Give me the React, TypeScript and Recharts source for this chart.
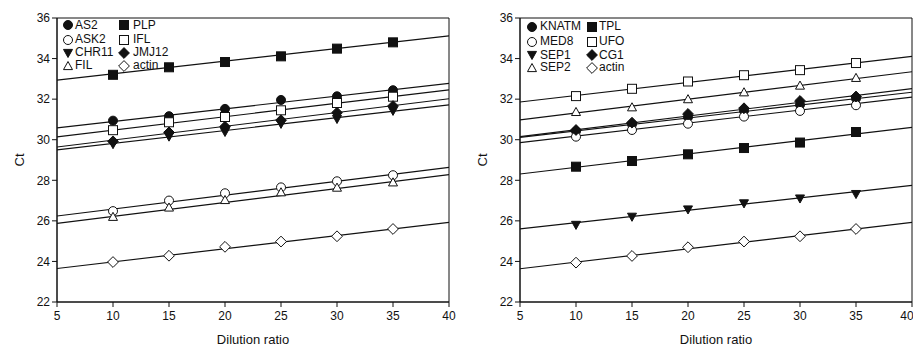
import React from "react"
import { ScatterChart, Scatter, XAxis, YAxis, ReferenceArea } from "recharts"

// dilution points and fit-line ends
const xValues = [10, 15, 20, 25, 30, 35]
const fitX = [5, 40]
const xTicks = [5, 10, 15, 20, 25, 30, 35, 40]
const yTicks = [22, 24, 26, 28, 30, 32, 34, 36]

// left panel
const leftNames = ["AS2", "ASK2", "CHR11", "FIL", "PLP", "IFL", "JMJ12", "actin"]
const as2 = [30.94, 31.16, 31.52, 31.96, 32.14, 32.44]
const ask2 = [26.48, 27.0, 27.36, 27.65, 27.95, 28.25]
const chr11 = [29.78, 30.15, 30.38, 30.78, 31.02, 31.42]
const fil = [26.2, 26.66, 27.03, 27.41, 27.64, 27.9]
const plp = [33.2, 33.57, 33.83, 34.11, 34.49, 34.8]
const ifl = [30.47, 30.86, 31.12, 31.45, 31.81, 32.12]
const jmj12 = [29.92, 30.36, 30.64, 30.96, 31.33, 31.66]
const actinL = [23.97, 24.28, 24.72, 24.98, 25.24, 25.6]

const as2Fit = [30.58, 32.78]
const ask2Fit = [26.24, 28.64]
const chr11Fit = [29.5, 31.72]
const filFit = [25.88, 28.28]
const plpFit = [32.94, 35.12]
const iflFit = [30.14, 32.46]
const jmj12Fit = [29.64, 32.02]
const actinLFit = [23.65, 25.93]

// right panel
const rightNames = ["KNATM", "MED8", "SEP1", "SEP2", "TPL", "UFO", "CG1", "actin"]
const knatm = [30.42, 30.76, 31.11, 31.42, 31.72, 32.03]
const med8 = [30.15, 30.48, 30.79, 31.14, 31.42, 31.7]
const sep1 = [25.8, 26.2, 26.56, 26.86, 27.1, 27.32]
const sep2 = [31.37, 31.6, 32.0, 32.34, 32.67, 33.05]
const tpl = [28.67, 28.95, 29.28, 29.59, 29.86, 30.38]
const ufo = [32.15, 32.51, 32.87, 33.18, 33.43, 33.78]
const cg1 = [30.48, 30.84, 31.27, 31.55, 31.91, 32.13]
const actinR = [23.94, 24.27, 24.7, 24.98, 25.24, 25.6]

const knatmFit = [30.12, 32.34]
const med8Fit = [29.86, 32.1]
const sep1Fit = [25.6, 27.75]
const sep2Fit = [30.98, 33.35]
const tplFit = [28.31, 30.61]
const ufoFit = [31.86, 34.11]
const cg1Fit = [30.15, 32.52]
const actinRFit = [23.64, 25.93]

const leftValues = [as2, ask2, chr11, fil, plp, ifl, jmj12, actinL]
const leftFits = [as2Fit, ask2Fit, chr11Fit, filFit, plpFit, iflFit, jmj12Fit, actinLFit]
const rightValues = [knatm, med8, sep1, sep2, tpl, ufo, cg1, actinR]
const rightFits = [knatmFit, med8Fit, sep1Fit, sep2Fit, tplFit, ufoFit, cg1Fit, actinRFit]

// marker per legend slot (same order in both panels)
const MARKERS = [
  { kind: "circle", filled: true },
  { kind: "circle", filled: false },
  { kind: "down", filled: true },
  { kind: "up", filled: false },
  { kind: "square", filled: true },
  { kind: "square", filled: false },
  { kind: "diamond", filled: true },
  { kind: "diamond", filled: false },
]

const FONT = "Arial, 'Liberation Sans', sans-serif"
const INK = "#111"

function Marker({ cx, cy, kind, filled, size = 9 }: any) {
  const r = size / 2
  const fill = filled ? INK : "#fff"
  const common = { fill, stroke: INK, strokeWidth: 1 }
  if (kind === "circle") return <circle cx={cx} cy={cy} r={r} {...common} />
  if (kind === "square") return <rect x={cx - r} y={cy - r} width={size} height={size} {...common} />
  if (kind === "down")
    return <polygon points={`${cx - r},${cy - r * 0.8} ${cx + r},${cy - r * 0.8} ${cx},${cy + r}`} {...common} />
  if (kind === "up")
    return <polygon points={`${cx - r},${cy + r * 0.8} ${cx + r},${cy + r * 0.8} ${cx},${cy - r}`} {...common} />
  const d = r * 1.2
  return <polygon points={`${cx},${cy - d} ${cx + d},${cy} ${cx},${cy + d} ${cx - d},${cy}`} {...common} />
}

function LegendItem({ name, marker, x, y, textX }: any) {
  return (
    <>
      <svg style={{ position: "absolute", left: x - 7, top: y - 7 }} width={14} height={14}>
        <Marker cx={7} cy={7} kind={marker.kind} filled={marker.filled} />
      </svg>
      <div style={{ position: "absolute", left: textX, top: y - 6.5, fontSize: 12, lineHeight: "13px", color: INK }}>
        {name}
      </div>
    </>
  )
}

interface PanelProps {
  left: number
  names: string[]
  values: number[][]
  fits: number[][]
  marginLeft: number
  marginRight: number
  legendCols: number[][]
  legendRows: number[]
}

function Panel({ left, names, values, fits, marginLeft, marginRight, legendCols, legendRows }: PanelProps) {
  const plotLeft = marginLeft + 30
  const plotRight = 460 - marginRight
  const tickStyle = { fontSize: 12, fill: INK, fontFamily: FONT }

  return (
    <div style={{ position: "absolute", left, top: 0, width: 460, height: 346, overflow: "hidden" }}>
      <ScatterChart width={460} height={346} margin={{ top: 18, right: marginRight, bottom: 14, left: marginLeft }}>
        <XAxis
          type="number"
          dataKey="x"
          domain={[5, 40]}
          ticks={xTicks}
          allowDataOverflow
          tick={tickStyle}
          tickLine={{ stroke: INK }}
          axisLine={{ stroke: INK }}
          tickSize={5}
          tickMargin={4}
          height={30}
        />
        <YAxis
          type="number"
          dataKey="y"
          domain={[22, 36]}
          ticks={yTicks}
          allowDataOverflow
          tick={tickStyle}
          tickLine={{ stroke: INK }}
          axisLine={{ stroke: INK }}
          tickSize={5}
          width={30}
        />
        <ReferenceArea x1={5} x2={40} y1={22} y2={36} fill="none" stroke={INK} strokeWidth={1} />
        {fits.map((f, i) => (
          <Scatter
            key={`fit-${i}`}
            data={fitX.map((x, j) => ({ x, y: f[j] }))}
            line={{ stroke: INK, strokeWidth: 1.2 }}
            shape={() => <g />}
            isAnimationActive={false}
          />
        ))}
        {values.map((v, i) => (
          <Scatter
            key={`pts-${i}`}
            name={names[i]}
            data={xValues.map((x, j) => ({ x, y: v[j] }))}
            shape={(p: any) => <Marker cx={p.cx} cy={p.cy} kind={MARKERS[i].kind} filled={MARKERS[i].filled} />}
            isAnimationActive={false}
          />
        ))}
      </ScatterChart>
      {names.map((n, i) => {
        const col = legendCols[Math.floor(i / 4)]
        return <LegendItem key={n + i} name={n} marker={MARKERS[i]} x={col[0]} textX={col[1]} y={legendRows[i % 4]} />
      })}
      <div
        style={{
          position: "absolute",
          left: plotLeft,
          width: plotRight - plotLeft,
          top: 332,
          textAlign: "center",
          fontSize: 13,
          color: INK,
        }}
      >
        Dilution ratio
      </div>
      <div
        style={{
          position: "absolute",
          left: marginLeft - 27,
          top: 160 - 8,
          width: 40,
          textAlign: "center",
          fontSize: 13,
          lineHeight: "16px",
          color: INK,
          transform: "rotate(-90deg)",
        }}
      >
        Ct
      </div>
    </div>
  )
}

export default function App() {
  return (
    <div style={{ position: "absolute", left: 0, top: 0, width: 913, height: 346, background: "#fff", fontFamily: FONT }}>
      <Panel
        left={0}
        names={leftNames}
        values={leftValues}
        fits={leftFits}
        marginLeft={27}
        marginRight={11}
        legendCols={[[68, 75], [124, 133]]}
        legendRows={[25, 39.5, 52.5, 65.5]}
      />
      <Panel
        left={453}
        names={rightNames}
        values={rightValues}
        fits={rightFits}
        marginLeft={37}
        marginRight={1}
        legendCols={[[79, 87], [139, 146]]}
        legendRows={[26.5, 41.5, 55, 67.5]}
      />
    </div>
  )
}
